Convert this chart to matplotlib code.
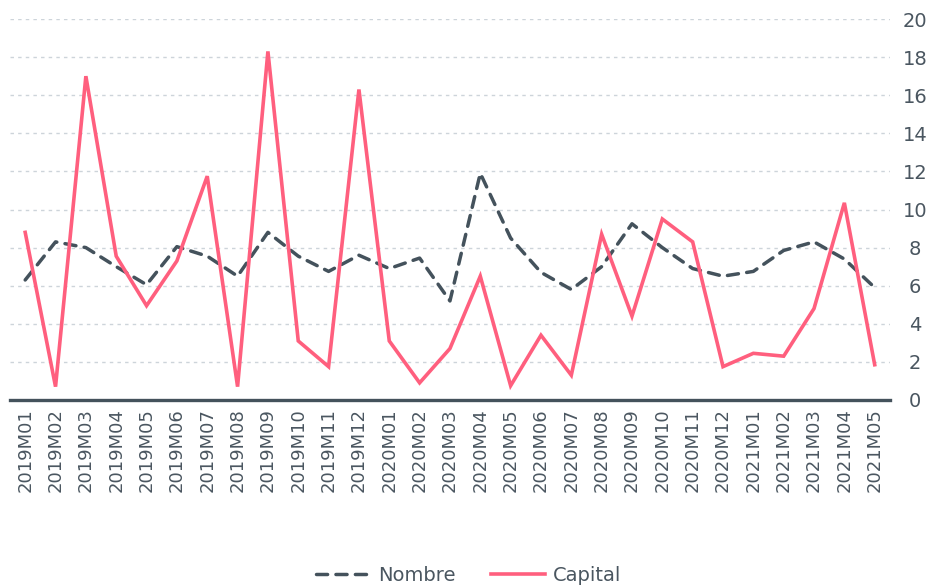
import matplotlib
matplotlib.use("Agg")
import matplotlib.pyplot as plt
import numpy as np

# data
months = ['2019M01', '2019M02', '2019M03', '2019M04', '2019M05', '2019M06',
          '2019M07', '2019M08', '2019M09', '2019M10', '2019M11', '2019M12',
          '2020M01', '2020M02', '2020M03', '2020M04', '2020M05', '2020M06',
          '2020M07', '2020M08', '2020M09', '2020M10', '2020M11', '2020M12',
          '2021M01', '2021M02', '2021M03', '2021M04', '2021M05']

nombre = [6.3, 8.3, 8.0, 7.0, 6.05, 8.05, 7.55, 6.5, 8.8, 7.55, 6.75, 7.6,
          6.9, 7.45, 5.2, 11.9, 8.5, 6.7, 5.8, 7.0, 9.25, 8.0, 6.9, 6.5,
          6.75, 7.85, 8.3, 7.4, 5.9]

capital = [8.8, 0.7, 17.0, 7.55, 4.95, 7.3, 11.75, 0.7, 18.3, 3.1, 1.75, 16.3,
           3.1, 0.9, 2.7, 6.5, 0.75, 3.4, 1.3, 8.7, 4.4, 9.5, 8.3, 1.75,
           2.45, 2.3, 4.8, 10.35, 1.85]

yticks = list(range(0, 21, 2))

text_col = '#4a5660'
dark = '#44525c'
pink = '#ff5f7e'

plt.rcParams['font.family'] = ['DejaVu Sans']

fig = plt.figure(figsize=(9.37, 5.87), dpi=100)
ax = fig.add_axes([0.0107, 0.3186, 0.939, 0.649])

x = np.arange(len(months))
ax.plot(x, nombre, color=dark, lw=2.5, dashes=(3.2, 2.4),
        dash_capstyle='round', label='Nombre', zorder=3)
ax.plot(x, capital, color=pink, lw=2.6, solid_joinstyle='miter',
        label='Capital', zorder=4)

ax.set_xlim(-0.5, len(months) - 0.5)
ax.set_ylim(0, 20)
ax.set_yticks(yticks)
ax.set_xticks(x)
ax.set_xticklabels(months, rotation=90, fontsize=13, color=text_col)

ax.yaxis.tick_right()
ax.tick_params(axis='y', length=0, pad=18, labelsize=14, labelcolor=text_col)
ax.tick_params(axis='x', length=0, pad=6)
for lab in ax.get_yticklabels():
    lab.set_horizontalalignment('center')

ax.grid(axis='y', color='#cdd4da', lw=1, dashes=(2.5, 3))
ax.set_axisbelow(True)
for s in ['top', 'left', 'right']:
    ax.spines[s].set_visible(False)
ax.spines['bottom'].set_color(dark)
ax.spines['bottom'].set_linewidth(2.4)
ax.spines['bottom'].set_zorder(5)

leg = fig.legend(loc='center', bbox_to_anchor=(0.5, 0.02), ncol=2,
                 frameon=False, fontsize=14, handlelength=2.8,
                 columnspacing=1.8, handletextpad=0.4)
for t in leg.get_texts():
    t.set_color(text_col)

fig.savefig('out.png', dpi=100)
